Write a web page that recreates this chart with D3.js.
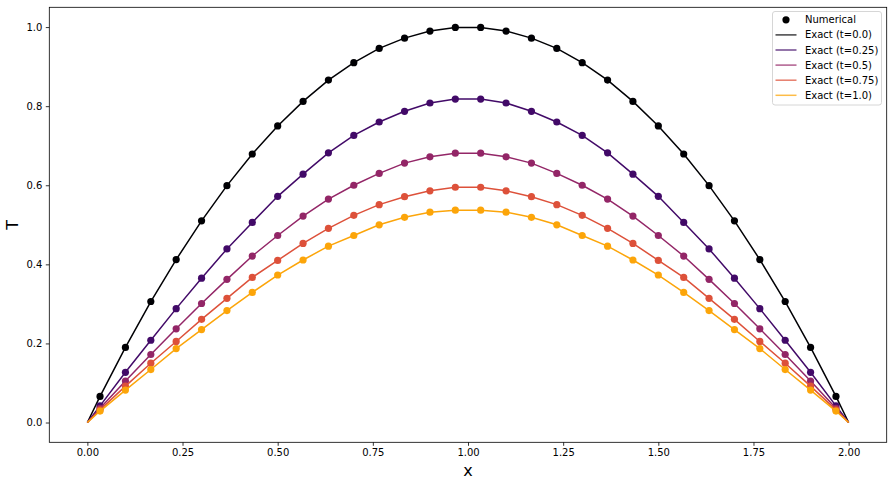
<!DOCTYPE html>
<html>
<head>
<meta charset="utf-8">
<script src="https://cdn.jsdelivr.net/npm/d3@7"></script>
<style>
  html, body { margin: 0; padding: 0; background: #fff; }
  svg { display: block; font-family: "DejaVu Sans", sans-serif; }
</style>
</head>
<body>
<svg id="chart" width="893" height="485"></svg>
<script>
// ---- data ----
// cell-centre x positions (left half, mirrored about x = 1)
const xLeft = [0.0333, 0.1, 0.1667, 0.2333, 0.3, 0.3667, 0.4333, 0.5, 0.5667, 0.6333, 0.7, 0.7667, 0.8333, 0.9, 0.9667];
const seriesLabels = ["Exact (t=0.0)", "Exact (t=0.25)", "Exact (t=0.5)", "Exact (t=0.75)", "Exact (t=1.0)"];
const seriesColors = ["#000004", "#420a68", "#932667", "#dd513a", "#fca50a"];
const tLeft0    = [0.066, 0.190, 0.306, 0.412, 0.510, 0.599, 0.679, 0.750, 0.812, 0.866, 0.910, 0.946, 0.972, 0.990, 0.999];
const tLeft025  = [0.042, 0.127, 0.208, 0.288, 0.365, 0.439, 0.506, 0.572, 0.628, 0.682, 0.726, 0.760, 0.787, 0.808, 0.818];
const tLeft05   = [0.036, 0.105, 0.172, 0.237, 0.301, 0.362, 0.421, 0.473, 0.522, 0.565, 0.600, 0.630, 0.656, 0.672, 0.681];
const tLeft075  = [0.032, 0.092, 0.150, 0.205, 0.261, 0.314, 0.367, 0.410, 0.453, 0.491, 0.524, 0.551, 0.571, 0.586, 0.595];
const tLeft10   = [0.029, 0.082, 0.134, 0.187, 0.235, 0.283, 0.329, 0.373, 0.411, 0.446, 0.473, 0.500, 0.519, 0.532, 0.537];
const xTicks = [0, 0.25, 0.5, 0.75, 1.0, 1.25, 1.5, 1.75, 2.0];
const yTicks = [0, 0.2, 0.4, 0.6, 0.8, 1.0];
const xDomain = [0, 2];

// mirror the symmetric profiles to the full domain
const xs = xLeft.concat(xLeft.slice().reverse().map(v => xDomain[1] - v));
const full = arr => arr.concat(arr.slice().reverse());
const seriesValues = [tLeft0, tLeft025, tLeft05, tLeft075, tLeft10].map(full);

// ---- layout ----
const svg = d3.select("#chart");
const L = 49.3, R = 886.7, T = 7.3, B = 442.3;
const x = d3.scaleLinear().domain([-0.1, 2.1]).range([L, R]);
const y = d3.scaleLinear().domain([-0.05, 1.05]).range([B, T]);

// axes
const xAxis = d3.axisBottom(x).tickValues(xTicks).tickFormat(d3.format(".2f")).tickSizeOuter(0).tickSize(3.5).tickPadding(3.5);
const yAxis = d3.axisLeft(y).tickValues(yTicks).tickFormat(d3.format(".1f")).tickSizeOuter(0).tickSize(3.5).tickPadding(3.5);

const gx = svg.append("g").attr("transform", `translate(0,${B})`).call(xAxis);
const gy = svg.append("g").attr("transform", `translate(${L},0)`).call(yAxis);
[gx, gy].forEach(g => {
  g.select(".domain").remove();
  g.selectAll(".tick line").attr("stroke", "#000").attr("stroke-width", 0.8);
  g.selectAll(".tick text").attr("fill", "#000").attr("font-size", "10px").attr("font-family", "DejaVu Sans, sans-serif");
});

// frame
svg.append("rect").attr("x", L).attr("y", T).attr("width", R - L).attr("height", B - T)
  .attr("fill", "none").attr("stroke", "#000").attr("stroke-width", 0.8);

// axis labels
svg.append("text").attr("x", (L + R) / 2).attr("y", 476).attr("text-anchor", "middle")
  .attr("font-size", "16px").attr("fill", "#000").text("x");
svg.append("text").attr("transform", `translate(18,${(T + B) / 2}) rotate(-90)`).attr("text-anchor", "middle")
  .attr("font-size", "16px").attr("fill", "#000").text("T");

// lines and points
const line = d3.line().x(d => x(d[0])).y(d => y(d[1]));
const plot = svg.append("g");
seriesValues.forEach((vals, i) => {
  const pts = xs.map((xv, j) => [xv, vals[j]]);
  const linePts = [[xDomain[0], 0]].concat(pts, [[xDomain[1], 0]]);
  plot.append("g").selectAll("circle").data(pts).join("circle")
    .attr("cx", d => x(d[0])).attr("cy", d => y(d[1])).attr("r", 3.6)
    .attr("fill", seriesColors[i]);
  plot.append("path").datum(linePts).attr("d", line)
    .attr("fill", "none").attr("stroke", seriesColors[i]).attr("stroke-width", 1.5);
});

// legend
const lg = svg.append("g");
lg.append("rect").attr("x", 772.5).attr("y", 11.5).attr("width", 109).attr("height", 93.5)
  .attr("rx", 2.5).attr("fill", "#fff").attr("fill-opacity", 0.8)
  .attr("stroke", "#d6d6d6").attr("stroke-width", 1);
const rowY0 = 19.8, rowDY = 15.1;
lg.append("circle").attr("cx", 786).attr("cy", rowY0).attr("r", 3.6).attr("fill", "#000");
lg.append("text").attr("x", 805).attr("y", rowY0).attr("dy", "0.35em").attr("font-size", "10px").attr("fill", "#000").text("Numerical");
seriesLabels.forEach((lab, i) => {
  const yy = rowY0 + rowDY * (i + 1);
  lg.append("line").attr("x1", 775.5).attr("x2", 796.5).attr("y1", yy).attr("y2", yy)
    .attr("stroke", seriesColors[i]).attr("stroke-width", 1.5).attr("stroke-opacity", 0.75);
  lg.append("text").attr("x", 805).attr("y", yy).attr("dy", "0.35em").attr("font-size", "10px").attr("fill", "#000").text(lab);
});
</script>
</body>
</html>
